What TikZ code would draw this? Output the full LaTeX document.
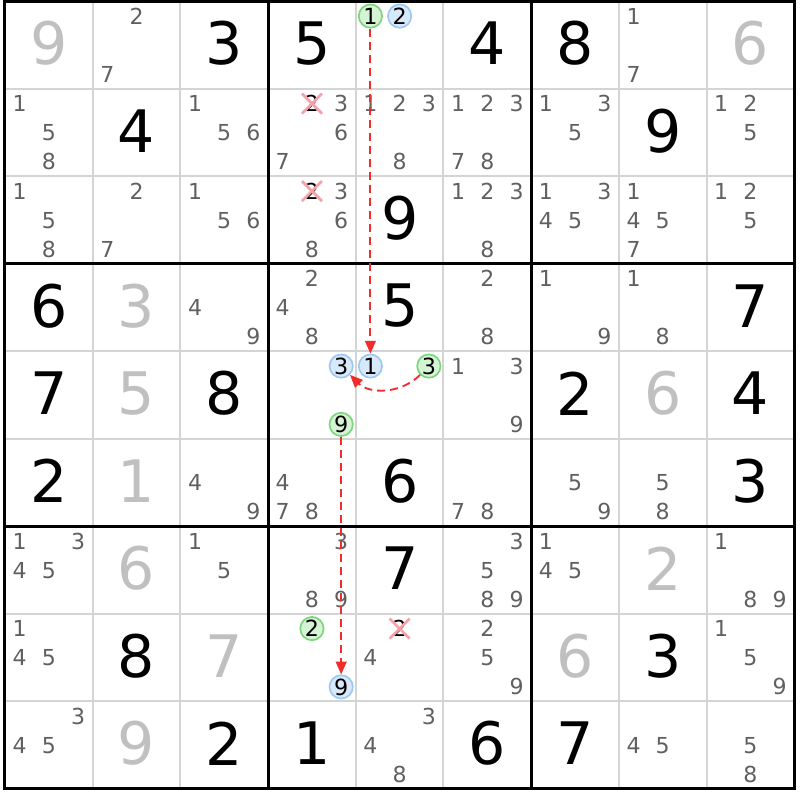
\documentclass[tikz,border=0pt]{standalone}
\usepackage{fontspec}
\setmainfont{DejaVu Sans}
\usetikzlibrary{arrows.meta,shapes.misc}
\definecolor{candcol}{HTML}{606060}
\definecolor{solvedcol}{HTML}{C0C0C0}
\definecolor{thincol}{HTML}{D4D4D4}
\definecolor{greenline}{HTML}{7CD67C}
\definecolor{greenfill}{HTML}{D5F3D5}
\definecolor{blueline}{HTML}{9CC9F4}
\definecolor{bluefill}{HTML}{D8E9FB}
\definecolor{crosscol}{HTML}{F5A3AA}
\definecolor{chaincol}{HTML}{F22B2B}
\tikzset{
  given/.style={font=\fontsize{50}{50}\selectfont, inner sep=0pt},
  solved/.style={given, text=solvedcol},
  cand/.style={font=\fontsize{18.8}{18.8}\selectfont, text=candcol, inner sep=0pt},
  struck/.style={cand, text=black, cross out, draw=crosscol, line width=0.8mm,
    minimum width=5.2mm, minimum height=5.2mm},
  linkg/.style={circle, draw=greenline, fill=greenfill, line width=0.5mm,
    minimum size=7mm, inner sep=0pt, font=\fontsize{19}{19}\selectfont},
  linkb/.style={linkg, draw=blueline, fill=bluefill},
  chain/.style={draw=chaincol, line width=0.55mm, dash pattern=on 2.4mm off 1.5mm,
    -{Triangle[length=3.8mm,width=3.2mm]}}
}
\begin{document}
\begin{tikzpicture}[x=26.31mm, y=-26.25mm]
\fill[white] (-0.057,-0.017) rectangle (9.065,9.126);
\useasboundingbox (-0.057,-0.017) rectangle (9.065,9.126);
% grid
\foreach \i in {1,2,4,5,7,8} {
  \draw[thincol, line width=0.6mm] (\i,0) -- (\i,9);
  \draw[thincol, line width=0.6mm] (0,\i) -- (9,\i);
}
\foreach \i in {3,6} {
  \draw[line width=0.9mm] (\i,0) -- (\i,9);
  \draw[line width=0.9mm] (0,\i) -- (9,\i);
}
\draw[line width=0.9mm] (0,0) rectangle (9,9);
% clues and solved cells
\foreach \r/\c/\d in {0/2/3, 0/3/5, 0/5/4, 0/6/8, 1/1/4, 1/7/9, 2/4/9,
  3/0/6, 3/4/5, 3/8/7, 4/0/7, 4/2/8, 4/6/2, 4/8/4, 5/0/2, 5/4/6, 5/8/3,
  6/4/7, 7/1/8, 7/7/3, 8/2/2, 8/3/1, 8/5/6, 8/6/7}
  \node[given] (v\r\c) at (\c+.5,\r+.48) {\d};
\foreach \r/\c/\d in {0/0/9, 0/8/6, 3/1/3, 4/1/5, 4/7/6, 5/1/1, 6/1/6,
  6/7/2, 7/2/7, 7/6/6, 8/1/9}
  \node[solved] (v\r\c) at (\c+.5,\r+.48) {\d};
% pencil marks
\foreach \r/\c/\ds in {0/1/{2,7}, 0/7/{1,7}, 1/0/{1,5,8}, 1/2/{1,5,6},
  1/3/{3,6,7}, 1/4/{1,2,3,8}, 1/5/{1,2,3,7,8}, 1/6/{1,3,5}, 1/8/{1,2,5},
  2/0/{1,5,8}, 2/1/{2,7}, 2/2/{1,5,6}, 2/3/{3,6,8}, 2/5/{1,2,3,8},
  2/6/{1,3,4,5}, 2/7/{1,4,5,7}, 2/8/{1,2,5}, 3/2/{4,9}, 3/3/{2,4,8},
  3/5/{2,8}, 3/6/{1,9}, 3/7/{1,8}, 4/5/{1,3,9}, 5/2/{4,9}, 5/3/{4,7,8},
  5/5/{7,8}, 5/6/{5,9}, 5/7/{5,8}, 6/0/{1,3,4,5}, 6/2/{1,5}, 6/3/{3,8,9},
  6/5/{3,5,8,9}, 6/6/{1,4,5}, 6/8/{1,8,9}, 7/0/{1,4,5}, 7/4/{4},
  7/5/{2,5,9}, 7/8/{1,5,9}, 8/0/{3,4,5}, 8/4/{3,4,8}, 8/7/{4,5}, 8/8/{5,8}}
{
  \foreach \n in \ds {
    \pgfmathsetmacro\px{\c+(mod(\n-1,3)+.5)/3}
    \pgfmathsetmacro\py{\r+(floor((\n-1)/3)+.5)/3}
    \node[cand] (k\r\c\n) at (\px,\py) {\n};
  }
}
% eliminated
\node[struck] (x132) at (3.5,1.1667) {2};
\node[struck] (x232) at (3.5,2.1667) {2};
\node[struck] (x742) at (4.5,7.1667) {2};
% chain
\node[linkg] (r0c4g1) at (4.1667,0.1667) {1};
\node[linkb] (r0c4b2) at (4.5,0.1667) {2};
\node[linkb] (r4c3b3) at (3.8333,4.1667) {3};
\node[linkg] (r4c3g9) at (3.8333,4.8333) {9};
\node[linkb] (r4c4b1) at (4.1667,4.1667) {1};
\node[linkg] (r4c4g3) at (4.8333,4.1667) {3};
\node[linkg] (r7c3g2) at (3.5,7.1667) {2};
\node[linkb] (r7c3b9) at (3.8333,7.8333) {9};
\draw[chain] (r0c4g1) -- (r4c4b1);
\draw[chain] (r4c4g3) to[bend left=45] (r4c3b3);
\draw[chain] (r4c3g9) -- (r7c3b9);
\end{tikzpicture}
\end{document}
